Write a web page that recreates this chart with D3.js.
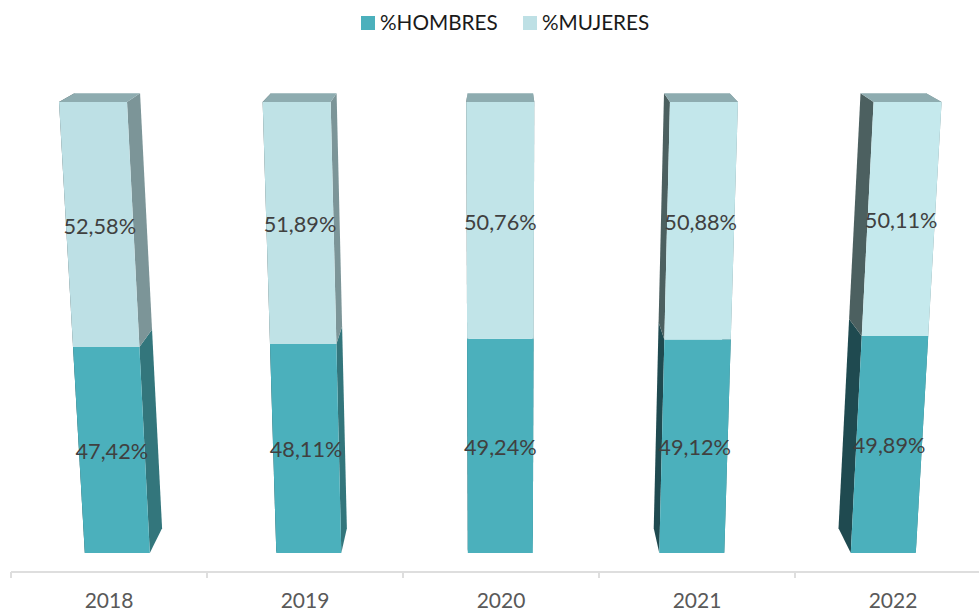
<!DOCTYPE html>
<html><head><meta charset="utf-8">
<style>html,body{margin:0;padding:0;background:#fff}svg{display:block}text{font-family:Lato,"Open Sans",sans-serif}</style>
<script src="https://cdn.jsdelivr.net/npm/d3@7"></script></head>
<body><svg id="c" width="979" height="612"></svg>
<script>
const years = ["2018","2019","2020","2021","2022"];
const hombres = [47.42,48.11,49.24,49.12,49.89];
const mujeres = [52.58,51.89,50.76,50.88,50.11];
const seriesNames = ["%HOMBRES","%MUJERES"];
const labelsH = ["47,42%","48,11%","49,24%","49,12%","49,89%"];
const labelsM = ["52,58%","51,89%","50,76%","50,88%","50,11%"];
const upperFront = ["#bde0e5","#bfe2e6","#c1e4e8","#c3e7eb","#c5e9ed"];

const svg = d3.select("#c");
const W = 979;
const x = d3.scaleBand().domain(years).range([11,991]);
const y = d3.scaleLinear().domain([0,100]).range([553,102]);
// perspective of the tilted front plane
const a = 0.932;
const fore = v => { const t=v/100; return 100*a*t/(1-t+a*t); };
const spread = d3.scaleLinear().domain([553,102]).range([0.977,1.039]);
const half = d3.scaleLinear().domain([553,102]).range([32.5,34]);
const axisCx = 501, cx = 500.3, vy = -151, k = 0.965;
function P(year, side, v, depth){
  const py = y(fore(v));
  const px = cx + (x(year)+x.bandwidth()/2-axisCx)*spread(py) + side*half(py);
  return depth ? [cx+(px-cx)*k, vy+(py-vy)*k] : [px,py];
}
const line = d3.line();
const poly = (pts,fill)=>svg.append("path").attr("d",line(pts)+"Z").attr("fill",fill);

years.forEach((yr,i)=>{
  const s = hombres[i];
  // sides (the one turned away ends up behind the front face)
  [[1,"#33767c","#7c9598"],[-1,"#1f4a50","#4c6060"]].forEach(([d,lo,hi])=>{
    poly([P(yr,d,0,0),P(yr,d,s,0),P(yr,d,s,1),P(yr,d,0,1)],lo);
    poly([P(yr,d,s,0),P(yr,d,100,0),P(yr,d,100,1),P(yr,d,s,1)],hi);
  });
  // top
  poly([P(yr,-1,100,0),P(yr,1,100,0),P(yr,1,100,1),P(yr,-1,100,1)],"#8eacb0");
  // front
  poly([P(yr,-1,0,0),P(yr,1,0,0),P(yr,1,s,0),P(yr,-1,s,0)],"#4bb0bc");
  poly([P(yr,-1,s,0),P(yr,1,s,0),P(yr,1,100,0),P(yr,-1,100,0)],upperFront[i]);
});

// data labels
const lab = (t,p)=>svg.append("text").attr("x",p[0]).attr("y",p[1]).attr("text-anchor","middle")
  .attr("font-size",21.7).attr("fill","#404040").text(t);
years.forEach((yr,i)=>{
  const s = hombres[i];
  const mid = P(yr,0,s/2,0), midU = P(yr,0,s+mujeres[i]/2,0);
  lab(labelsH[i],[mid[0],mid[1]+7]);
  lab(labelsM[i],[midU[0],midU[1]+7]);
});

// axis
const axisG = svg.append("g").attr("transform","translate(0,572)");
axisG.call(d3.axisBottom(x).tickSize(0).tickPadding(21));
axisG.select(".domain").remove();
axisG.selectAll("text").attr("font-size",21).attr("fill","#595959").style("font-family","Lato");
axisG.append("line").attr("x1",11).attr("x2",W).attr("y1",0).attr("y2",0).attr("stroke","#dedede").attr("stroke-width",2);
years.forEach(yr=>axisG.append("line").attr("x1",x(yr)).attr("x2",x(yr)).attr("y1",0).attr("y2",6).attr("stroke","#dedede").attr("stroke-width",2));

// legend
const legX = [361,523], legC = ["#4bb0bc","#bee0e5"];
seriesNames.forEach((n,i)=>{
  svg.append("rect").attr("x",legX[i]).attr("y",16).attr("width",14).attr("height",14).attr("fill",legC[i]);
  svg.append("text").attr("x",legX[i]+19).attr("y",30).attr("font-size",20.7).attr("fill","#1a1a1a").text(n);
});
</script></body></html>
